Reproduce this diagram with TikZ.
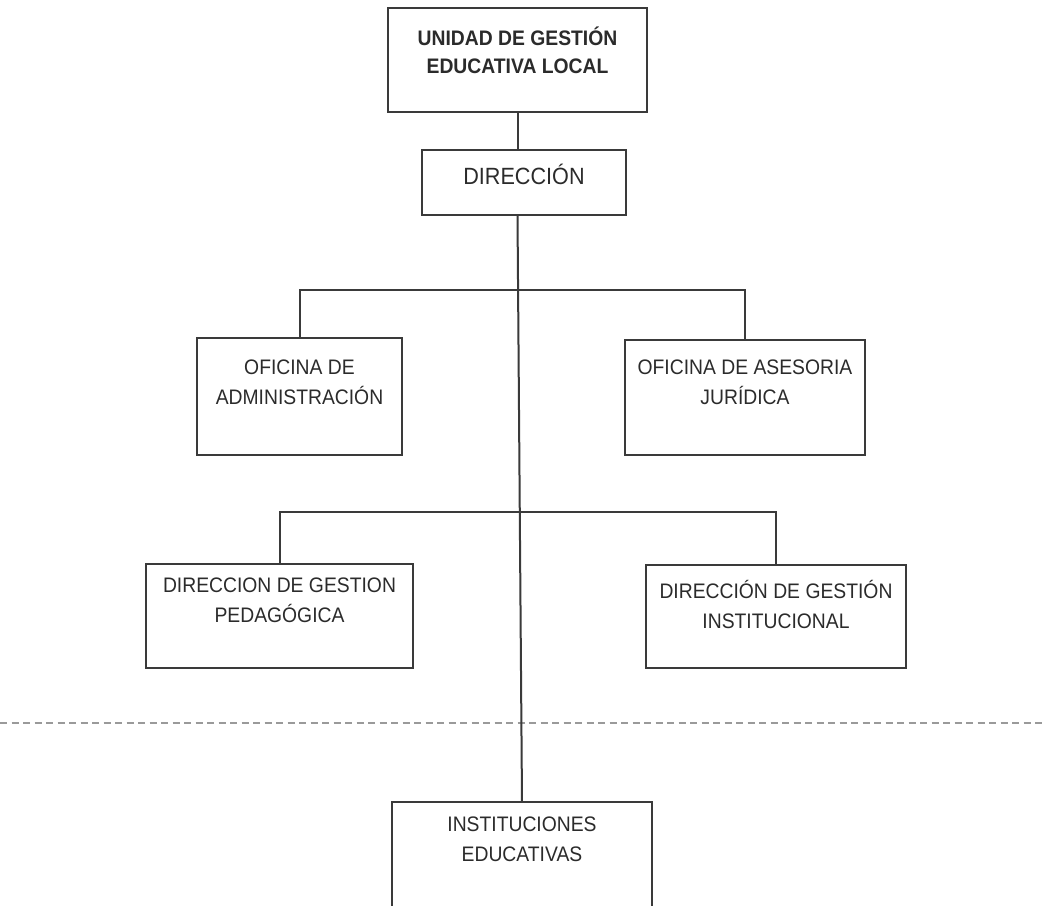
\documentclass[tikz,border=0pt]{standalone}
\usepackage{fontspec}
\setmainfont{Liberation Sans}[FakeStretch=0.92]
\usetikzlibrary{positioning}
\definecolor{boxline}{HTML}{3A3A3A}
\definecolor{boxtext}{HTML}{2B2B2B}
\definecolor{sepline}{HTML}{9A9A9A}

\begin{document}
\begin{tikzpicture}[
    x=1pt, y=-1pt,
    unit/.style={draw=boxline, line width=2pt, rectangle, inner sep=0pt, outer sep=0pt},
    conn/.style={draw=boxline, line width=2pt},
    unittext/.style={text=boxtext, align=center, inner sep=0pt,
      font=\fontsize{21}{30}\selectfont, execute at begin node=\rule{0pt}{20pt}},
    cut/.style={draw=sepline, line width=2pt, dash pattern=on 7pt off 4.5pt}
    ]
    \useasboundingbox (0,0) rectangle (1044,905);
    \clip (0,0) rectangle (1044,905);
    \fill[white] (0,0) rectangle (1044,905);

    % boxes
    \node[unit, minimum width=259pt, minimum height=104pt] (uge) at (517.5,60) {};
    \node[unit, minimum width=204pt, minimum height=65pt] (dir) at (524,182.5) {};
    \node[unit, minimum width=205pt, minimum height=117pt] (adm) at (299.5,396.5) {};
    \node[unit, minimum width=240pt, minimum height=115pt] (ase) at (745,397.5) {};
    \node[unit, minimum width=267pt, minimum height=104pt] (ped) at (279.5,616) {};
    \node[unit, minimum width=260pt, minimum height=103pt] (ins) at (776,616.5) {};
    \node[unit, minimum width=260pt, minimum height=160pt] (inst) at (522,882) {};

    % texts
    \node[unittext, font=\bfseries\fontsize{21}{28}\selectfont, below=19pt of uge.north] (ugetxt)
      {UNIDAD DE GESTIÓN\\EDUCATIVA LOCAL};
    \node[unittext, font=\fontsize{23.5}{30}\selectfont, below=14pt of dir.north] (dirtxt) {DIRECCIÓN};
    \node[unittext, below=22pt of adm.north] (admtxt) {OFICINA DE\\ADMINISTRACIÓN};
    \node[unittext, below=20pt of ase.north] (asetxt) {OFICINA DE ASESORIA\\JURÍDICA};
    \node[unittext, below=14pt of ped.north] (pedtxt) {DIRECCION DE GESTION\\PEDAGÓGICA};
    \node[unittext, below=15pt of ins.north] (instxt) {DIRECCIÓN DE GESTIÓN\\INSTITUCIONAL};
    \node[unittext, below=15pt of inst.north] (insttxt) {INSTITUCIONES\\EDUCATIVAS};

    \coordinate (bar1) at (520,290);
    \coordinate (bar2) at (520,512);
    \coordinate (cutl) at (0,723);
    \coordinate (cutr) at (1044,723);

    \draw[cut] (cutl) -- (cutr);

    \draw[conn] (uge.south) -- (uge.south |- dir.north);
    \draw[conn] (uge.south |- dir.south) -- (inst.north);
    \draw[conn] (adm.north) -- (adm.north |- bar1) -- (ase.north |- bar1) -- (ase.north);
    \draw[conn] (ped.north) -- (ped.north |- bar2) -- (ins.north |- bar2) -- (ins.north);

\end{tikzpicture}
\end{document}
